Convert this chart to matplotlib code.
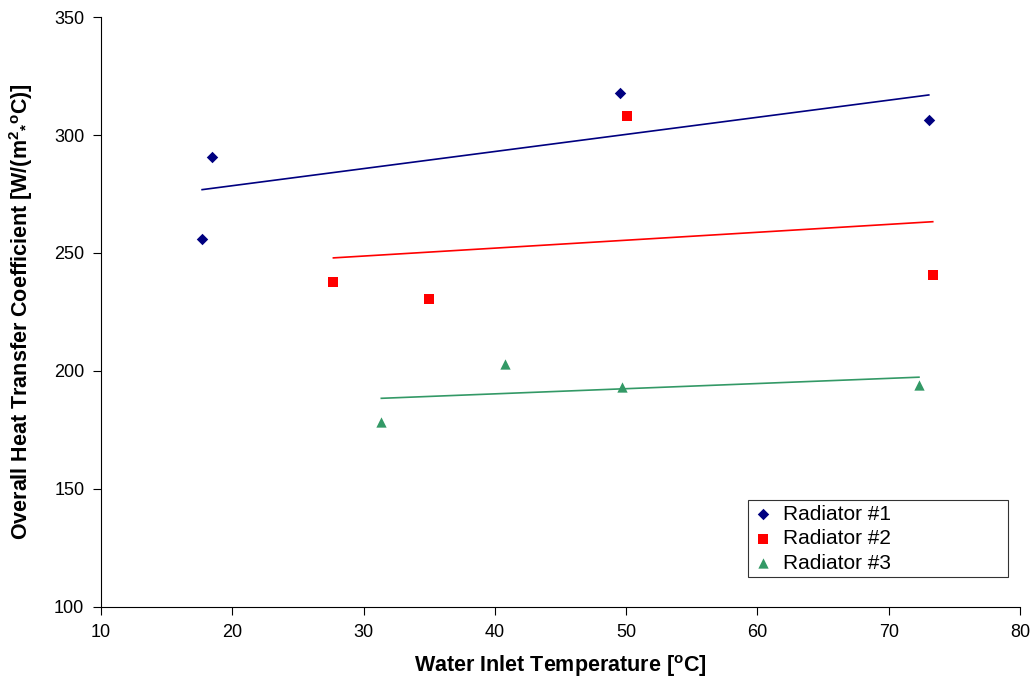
import numpy as np
import matplotlib
matplotlib.use('Agg')
import matplotlib.pyplot as plt

plt.rcParams['font.family'] = ['Liberation Sans', 'DejaVu Sans']
plt.rcParams['mathtext.fontset'] = 'custom'
plt.rcParams['mathtext.rm'] = 'Liberation Sans:bold'
plt.rcParams['mathtext.it'] = 'Liberation Sans:bold'
plt.rcParams['mathtext.bf'] = 'Liberation Sans:bold'

# data
names = ['Radiator #1', 'Radiator #2', 'Radiator #3']
x1 = [17.7, 18.45, 49.5, 73.05]
y1 = [256.0, 290.8, 317.8, 306.5]
x2 = [27.7, 35.0, 50.05, 73.35]
y2 = [237.8, 230.5, 308.0, 240.7]
x3 = [31.35, 40.75, 49.65, 72.3]
y3 = [178.5, 202.8, 193.2, 194.2]

colors = ['#000080', '#FF0000', '#339966']
markers = ['D', 's', '^']
sizes = [34, 48, 55]

fig = plt.figure(figsize=(10.34, 6.83), dpi=100)
ax = fig.add_axes([0.0977, 0.1113, 0.8888, 0.8638])

for xs, ys, name, c, m, s in zip([x1, x2, x3], [y1, y2, y3], names, colors, markers, sizes):
    xs = np.array(xs)
    ys = np.array(ys)
    ax.scatter(xs, ys, marker=m, s=s, color=c, label=name, zorder=3, linewidths=0)
    # linear trendline like Excel
    k, b = np.polyfit(xs, ys, 1)
    xx = np.array([xs.min(), xs.max()])
    ax.plot(xx, k * xx + b, color=c, lw=1.2, zorder=2)

ax.set_xlim(10, 80)
ax.set_ylim(100, 350)
ax.set_xticks(range(10, 81, 10))
ax.set_yticks(range(100, 351, 50))
ax.spines['top'].set_visible(False)
ax.spines['right'].set_visible(False)
ax.tick_params(direction='out', length=6, labelsize=13, pad=6)

ax.set_xlabel(r'Water Inlet Temperature [$^{o}$C]', fontsize=15.5, fontweight='bold', labelpad=9)
ax.set_ylabel(r'Overall Heat Transfer Coefficient [W/(m$^{2}$$_{*}$$^{o}$C)]',
              fontsize=15.5, fontweight='bold', labelpad=14)

leg = ax.legend(loc='lower left', bbox_to_anchor=(0.704, 0.0508, 0.283, 0.2), mode='expand',
                borderaxespad=0, fontsize=15, frameon=True, fancybox=False,
                edgecolor='black', borderpad=0.2, handlelength=1.0, handletextpad=0.5,
                labelspacing=0.27, scatterpoints=1)
leg.get_frame().set_linewidth(0.8)

plt.savefig('out.png', dpi=100)
